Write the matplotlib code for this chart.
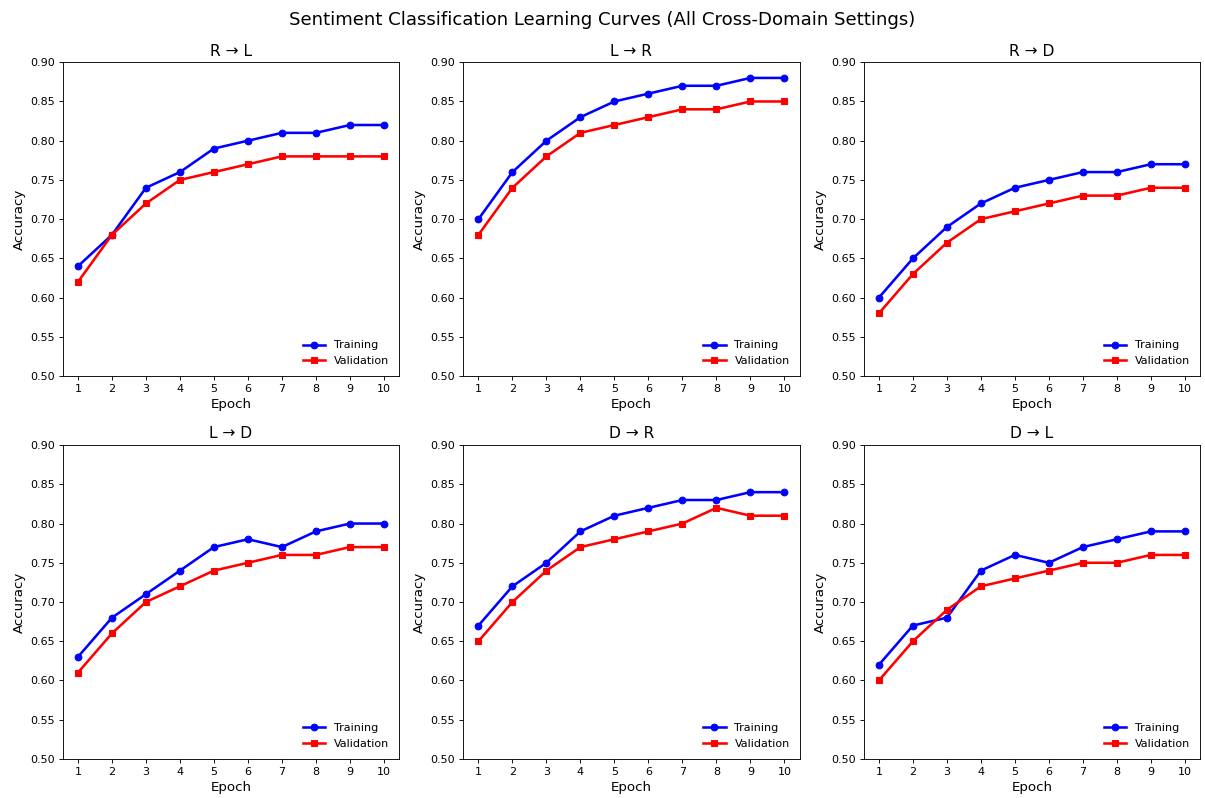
import matplotlib
matplotlib.use('Agg')
import matplotlib.pyplot as plt

epochs = list(range(1, 11))

titles = ['R → L', 'L → R', 'R → D', 'L → D', 'D → R', 'D → L']

train_rl = [0.64, 0.68, 0.74, 0.76, 0.79, 0.80, 0.81, 0.81, 0.82, 0.82]
val_rl = [0.62, 0.68, 0.72, 0.75, 0.76, 0.77, 0.78, 0.78, 0.78, 0.78]

train_lr = [0.70, 0.76, 0.80, 0.83, 0.85, 0.86, 0.87, 0.87, 0.88, 0.88]
val_lr = [0.68, 0.74, 0.78, 0.81, 0.82, 0.83, 0.84, 0.84, 0.85, 0.85]

train_rd = [0.60, 0.65, 0.69, 0.72, 0.74, 0.75, 0.76, 0.76, 0.77, 0.77]
val_rd = [0.58, 0.63, 0.67, 0.70, 0.71, 0.72, 0.73, 0.73, 0.74, 0.74]

train_ld = [0.63, 0.68, 0.71, 0.74, 0.77, 0.78, 0.77, 0.79, 0.80, 0.80]
val_ld = [0.61, 0.66, 0.70, 0.72, 0.74, 0.75, 0.76, 0.76, 0.77, 0.77]

train_dr = [0.67, 0.72, 0.75, 0.79, 0.81, 0.82, 0.83, 0.83, 0.84, 0.84]
val_dr = [0.65, 0.70, 0.74, 0.77, 0.78, 0.79, 0.80, 0.82, 0.81, 0.81]

train_dl = [0.62, 0.67, 0.68, 0.74, 0.76, 0.75, 0.77, 0.78, 0.79, 0.79]
val_dl = [0.60, 0.65, 0.69, 0.72, 0.73, 0.74, 0.75, 0.75, 0.76, 0.76]

train_all = [train_rl, train_lr, train_rd, train_ld, train_dr, train_dl]
val_all = [val_rl, val_lr, val_rd, val_ld, val_dr, val_dl]

# larger canvas at lower dpi so default sizes come out a bit smaller
DPI = 80
fig, axes = plt.subplots(2, 3, figsize=(1205 / DPI, 798 / DPI), dpi=DPI)

for ax, title, tr, va in zip(axes.flat, titles, train_all, val_all):
    ax.plot(epochs, tr, color='blue', marker='o', linewidth=2.3, label='Training')
    ax.plot(epochs, va, color='red', marker='s', linewidth=2.3, label='Validation')
    ax.set_title(title, fontsize=14)
    ax.set_xlabel('Epoch', fontsize=12)
    ax.set_ylabel('Accuracy', fontsize=12)
    ax.set_ylim(0.5, 0.9)
    ax.set_xticks(epochs)
    ax.legend(loc='lower right', frameon=False)

fig.suptitle('Sentiment Classification Learning Curves (All Cross-Domain Settings)',
             fontsize=16.3, y=0.975, va='center')
plt.subplots_adjust(left=0.052, right=0.996, top=0.922, bottom=0.049,
                    wspace=0.19, hspace=0.22)
plt.savefig('out.png', dpi=DPI)
